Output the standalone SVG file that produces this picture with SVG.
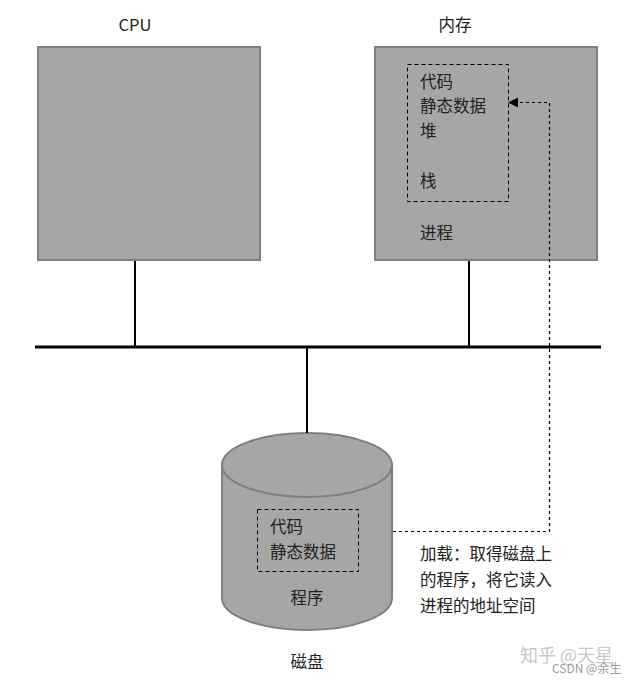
<svg xmlns="http://www.w3.org/2000/svg" width="635" height="684" viewBox="0 0 635 684">
<style>
text{font-family:"Noto Sans CJK SC","Noto Sans",sans-serif;font-size:16.5px;fill:#222;}
.box{fill:#a6a6a6;stroke:#7f7f7f;stroke-width:2;}
.dash{fill:none;stroke:#000;stroke-width:1;stroke-dasharray:4 3;}
.line{stroke:#000;stroke-width:2;fill:none;}
.wm{fill:#c8c8c8;font-size:18px;}
</style>
<defs>
<marker id="arr" markerWidth="10" markerHeight="10" refX="9" refY="5" orient="auto" markerUnits="userSpaceOnUse">
<path d="M0,0 L10,5 L0,10 z" fill="#000"/>
</marker>
</defs>
<rect width="635" height="684" fill="#fff"/>
<g id="cpu">
<text x="135" y="31" text-anchor="middle">CPU</text>
<rect class="box" x="38" y="47" width="222" height="213"/>
</g>
<g id="memory">
<text x="455" y="31" text-anchor="middle">内存</text>
<rect class="box" x="375" y="47" width="222" height="213"/>
<rect class="dash" x="407.5" y="64.5" width="101" height="137"/>
<text x="420" y="88">代码</text>
<text x="420" y="112">静态数据</text>
<text x="420" y="137">堆</text>
<text x="420" y="187">栈</text>
<text x="420" y="239">进程</text>
</g>
<g id="disk">
<path class="box" d="M222,465 V598 A85,32 0 0 0 392,598 V465"/>
<ellipse class="box" cx="307" cy="465" rx="85" ry="32"/>
<rect class="dash" x="257.5" y="509.5" width="101" height="62"/>
<text x="270" y="533">代码</text>
<text x="270" y="558">静态数据</text>
<text x="307" y="604" text-anchor="middle">程序</text>
<text x="307" y="668" text-anchor="middle">磁盘</text>
</g>
<g id="connectors">
<line class="line" x1="135" y1="261" x2="135" y2="347"/>
<line class="line" x1="469" y1="261" x2="469" y2="347"/>
<line x1="35" y1="347" x2="601" y2="347" stroke="#000" stroke-width="3"/>
<line class="line" x1="307" y1="347" x2="307" y2="433"/>
<path d="M393,531.5 H549.5 V102.5 H509" fill="none" stroke="#000" stroke-width="1.2" stroke-dasharray="3 3" marker-end="url(#arr)"/>
</g>
<g id="note">
<text x="420" y="560">加载：取得磁盘上</text>
<text x="420" y="586">的程序，将它读入</text>
<text x="420" y="612">进程的地址空间</text>
</g>
<g id="watermark">
<text class="wm" x="520" y="662">知乎 @天星</text>
<text x="552" y="673" style="font-size:12px;fill:#9a9a9a">CSDN @余生</text>
</g>
</svg>
